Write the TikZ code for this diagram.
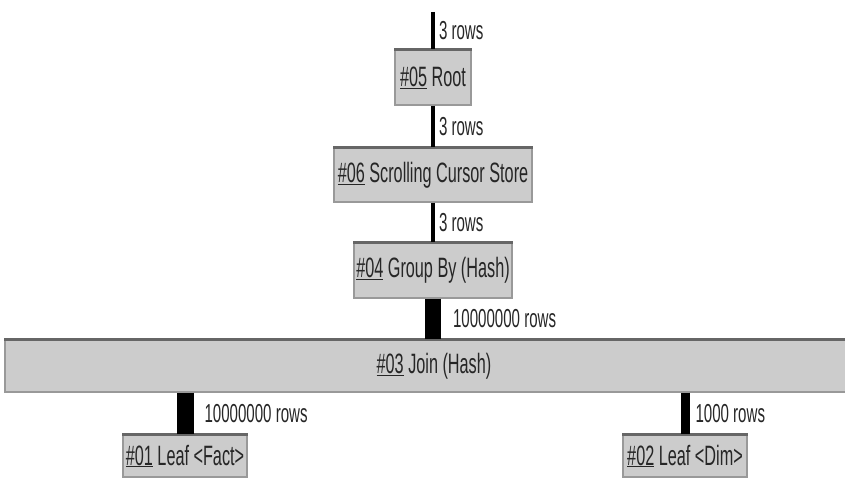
\documentclass[tikz,border=0pt]{standalone}
\usepackage{fontspec}
\setmainfont{Liberation Sans}[FakeStretch=0.58]

\begin{document}
\begin{tikzpicture}[x=1pt, y=-1pt,
	opbox/.style={draw=black!40, line width=1.2pt, fill=black!20, text=black!85,
		font=\fontsize{28}{32}\selectfont, inner sep=0pt},
	flow/.style={line width=#1, draw=black},
	rowlbl/.style={anchor=west, inner sep=0pt, text=black!85,
		font=\fontsize{26}{30}\selectfont},
	topedge/.style={line width=2.4pt, draw=black!60}]
			%%%%% START %%%%%
			
			\useasboundingbox (0,0) rectangle (845,487);
			
			\node[opbox, minimum width=76pt, minimum height=55pt] (root) at (433, 77.5) {\underline{\#05} Root};
			\node[opbox, minimum width=198pt, minimum height=54pt] (store) at (433, 175) {\underline{\#06} Scrolling Cursor Store};
			\node[opbox, minimum width=158pt, minimum height=55pt] (group) at (433, 270.5) {\underline{\#04} Group By (Hash)};
			\node[opbox, minimum width=858pt, minimum height=52pt] (join) at (434, 366) {\underline{\#03} Join (Hash)};
			\node[opbox, minimum width=124pt, minimum height=42pt] (fact) at (185, 456) {\underline{\#01} Leaf <Fact>};
			\node[opbox, minimum width=124pt, minimum height=42pt] (dim) at (685, 456) {\underline{\#02} Leaf <Dim>};
			
			\foreach \n in {root, store, group, join, fact, dim}
				\draw[topedge] (\n.north west) -- (\n.north east);
			
			\coordinate (in) at (433, 12);
			\draw[flow=4pt] (in) -- node[rowlbl, xshift=4pt] {3 rows} (root);
			\draw[flow=4pt] (root) -- node[rowlbl, xshift=4pt] {3 rows} (store);
			\draw[flow=4pt] (store) -- node[rowlbl, xshift=4pt] {3 rows} (group);
			\draw[flow=16pt] (group) -- node[rowlbl, xshift=12pt] {10000000 rows} (group |- join.north);
			\draw[flow=17pt] (join.south -| fact) -- node[rowlbl, xshift=11pt] {10000000 rows} (fact);
			\draw[flow=9pt] (join.south -| dim) -- node[rowlbl, xshift=6pt] {1000 rows} (dim);
			
			%%%%% END %%%%%
\end{tikzpicture}
\end{document}
